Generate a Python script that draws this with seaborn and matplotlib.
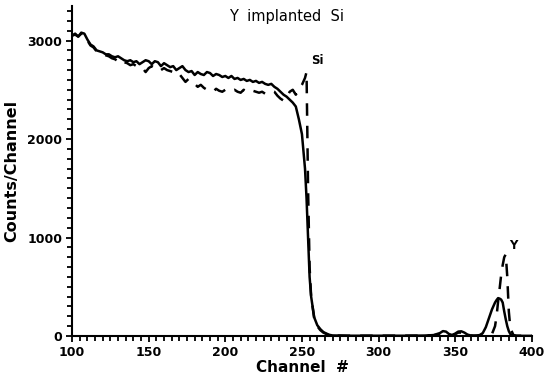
import numpy as np
import pandas as pd
import matplotlib
matplotlib.use("Agg")
import matplotlib.pyplot as plt
import seaborn as sns
from matplotlib.ticker import MultipleLocator

# RBS spectrum values (channel, counts/channel)
channel = [100, 102, 104, 106, 108, 110, 112, 114, 116, 118, 120, 122, 124, 126, 128,
           130, 132, 134, 136, 138, 140, 142, 144, 146, 148, 150, 152, 154, 156, 158,
           160, 162, 164, 166, 168, 170, 172, 174, 176, 178, 180, 182, 184, 186, 188,
           190, 192, 194, 196, 198, 200, 202, 204, 206, 208, 210, 212, 214, 216, 218,
           220, 222, 224, 226, 228, 230, 232, 234, 236, 238, 240, 242, 244, 246, 248,
           250, 252, 253, 254, 255, 256, 258, 260, 262, 264, 266, 268, 270, 280, 290,
           300, 310, 320, 330, 336, 340, 342, 344, 346, 348, 350, 352, 354, 356, 358,
           360, 362, 364, 366, 368, 370, 372, 374, 376, 377, 378, 379, 380, 381, 382,
           383, 384, 385, 386, 388, 390, 395, 400]

random_counts = [3050, 3070, 3040, 3080, 3070, 3010, 2960, 2940, 2900, 2890, 2880, 2860, 2860, 2840, 2830,
                 2840, 2820, 2800, 2790, 2800, 2780, 2790, 2760, 2780, 2800, 2790, 2760, 2790, 2780, 2740,
                 2770, 2750, 2730, 2740, 2700, 2720, 2740, 2700, 2680, 2690, 2650, 2680, 2660, 2650, 2680,
                 2670, 2640, 2660, 2650, 2630, 2640, 2620, 2640, 2610, 2620, 2600, 2610, 2590, 2600, 2580,
                 2590, 2570, 2580, 2560, 2550, 2560, 2530, 2510, 2480, 2450, 2430, 2400, 2370, 2330, 2200,
                 2050, 1700, 1400, 1000, 600, 400, 190, 110, 70, 40, 25, 12, 6, 3, 3,
                 3, 3, 3, 5, 10, 30, 50, 45, 20, 10, 25, 45, 48, 35, 15,
                 6, 4, 5, 10, 30, 90, 180, 270, 340, 365, 385, 380, 370, 340, 250,
                 170, 100, 50, 20, 5, 2, 2, 2]

aligned_counts = [3050, 3060, 3040, 3070, 3060, 3000, 2950, 2930, 2890, 2880, 2860, 2850, 2840, 2820, 2810,
                  2790, 2760, 2780, 2770, 2750, 2760, 2740, 2740, 2720, 2680, 2720, 2740, 2720, 2690, 2700,
                  2720, 2700, 2690, 2680, 2650, 2660, 2620, 2580, 2610, 2580, 2560, 2530, 2550, 2520, 2500,
                  2490, 2480, 2510, 2490, 2480, 2500, 2480, 2490, 2500, 2480, 2470, 2500, 2480, 2500, 2490,
                  2480, 2470, 2480, 2460, 2470, 2490, 2480, 2440, 2410, 2390, 2420, 2480, 2500, 2450, 2500,
                  2550, 2620, 2680, 1500, 700, 400, 180, 100, 60, 35, 20, 10, 5, 3, 3,
                  3, 3, 3, 4, 8, 20, 35, 30, 12, 8, 18, 35, 35, 25, 10,
                  5, 3, 3, 4, 5, 5, 8, 20, 100, 200, 350, 480, 620, 720, 800,
                  830, 600, 250, 80, 10, 3, 2, 2]

sns.set_style("ticks")
plt.rcParams["font.family"] = ["DejaVu Sans"]
plt.rcParams["text.color"] = "black"
plt.rcParams["axes.labelcolor"] = "black"

fig = plt.figure(figsize=(5.46, 3.78), dpi=100)
ax = fig.add_axes([0.132, 0.111, 0.842, 0.873])

sns.lineplot(x=channel, y=random_counts, ax=ax, color="black", lw=1.8, sort=False)
sns.lineplot(x=channel, y=aligned_counts, ax=ax, color="black", lw=1.8,
             linestyle=(0, (5, 4)), sort=False)

ax.set_xlim(100, 400)
ax.set_ylim(0, 3350)
ax.xaxis.set_major_locator(MultipleLocator(50))
ax.xaxis.set_minor_locator(MultipleLocator(5))
ax.yaxis.set_major_locator(MultipleLocator(1000))
ax.yaxis.set_minor_locator(MultipleLocator(100))
ax.tick_params(which="both", direction="out", width=1.3, colors="black", labelcolor="black")
ax.tick_params(which="major", length=4, pad=3, labelsize=9)
ax.tick_params(which="minor", length=3.5)
for lab in ax.get_xticklabels() + ax.get_yticklabels():
    lab.set_fontweight("bold")

sns.despine(ax=ax)
for s in ("left", "bottom"):
    ax.spines[s].set_linewidth(1.5)
    ax.spines[s].set_color("black")

ax.set_xlabel("Channel  #", fontsize=11, fontweight="bold", labelpad=1, color="black")
ax.set_ylabel("Counts/Channel", fontsize=11.5, fontweight="bold", labelpad=6, color="black")

fig.text(287 / 546, 1 - 16 / 378, "Y  implanted  Si", ha="center", va="center",
         fontsize=10.5, color="black")
ax.text(256, 2800, "Si", fontsize=8.5, fontweight="bold", ha="left", va="center", color="black")
ax.text(385, 920, "Y", fontsize=8.5, fontweight="bold", ha="left", va="center", color="black")

fig.savefig("out.png", dpi=100)
